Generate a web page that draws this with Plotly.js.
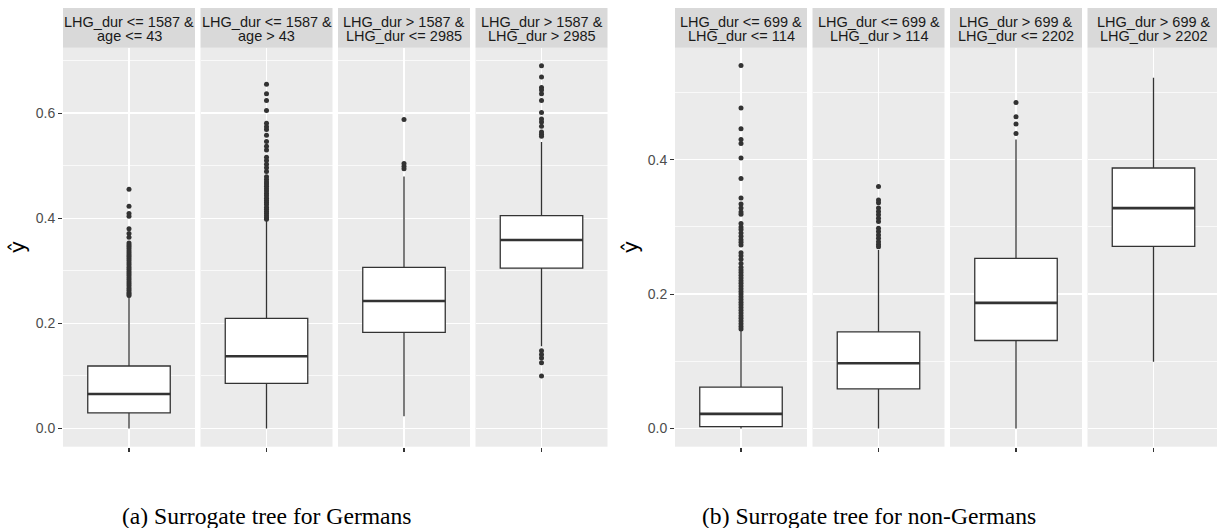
<!DOCTYPE html>
<html>
<head>
<meta charset="utf-8">
<script src="https://cdn.plot.ly/plotly-3.0.1.min.js"></script>
<style>html,body{margin:0;padding:0;background:#fff;}#chart{width:1217px;height:528px;}</style>
</head>
<body>
<div id="chart"></div>
<script>
// ---------- data: (a) Germans ----------
var germanStripLine1 = ["LHG_dur <= 1587 &", "LHG_dur <= 1587 &", "LHG_dur > 1587 &", "LHG_dur > 1587 &"];
var germanStripLine2 = ["age <= 43", "age > 43", "LHG_dur <= 2985", "LHG_dur > 2985"];
var germanQ1     = [0.0297, 0.0861, 0.1831, 0.3053];
var germanMedian = [0.0658, 0.1375, 0.2426, 0.3586];
var germanQ3     = [0.1190, 0.2097, 0.3067, 0.4050];
var germanLower  = [0.0000, 0.0000, 0.0234, 0.1565];
var germanUpper  = [0.2500, 0.3950, 0.4797, 0.5450];
var germanOut1 = [0.455, 0.423, 0.409, 0.404, 0.380, 0.371, 0.364, 0.353, 0.349, 0.346, 0.342, 0.338, 0.334, 0.330, 0.327, 0.323, 0.319, 0.315, 0.311, 0.307, 0.303, 0.299, 0.295, 0.291, 0.287, 0.283, 0.279, 0.275, 0.271, 0.267, 0.263, 0.259, 0.256, 0.253];
var germanOut2 = [0.655, 0.637, 0.624, 0.605, 0.581, 0.574, 0.569, 0.558, 0.546, 0.537, 0.530, 0.516, 0.510, 0.503, 0.496, 0.489, 0.479, 0.474, 0.469, 0.465, 0.461, 0.456, 0.452, 0.447, 0.443, 0.438, 0.434, 0.430, 0.426, 0.421, 0.417, 0.413, 0.409, 0.405, 0.401, 0.398];
var germanOut3 = [0.588, 0.504, 0.499, 0.494];
var germanOut4 = [0.690, 0.669, 0.649, 0.644, 0.637, 0.624, 0.601, 0.589, 0.583, 0.575, 0.564, 0.560, 0.556, 0.148, 0.141, 0.134, 0.125, 0.100];
var germanTicks = [0.0, 0.2, 0.4, 0.6];
var germanCaption = "(a) Surrogate tree for Germans";

// ---------- data: (b) non-Germans ----------
var nonGermanStripLine1 = ["LHG_dur <= 699 &", "LHG_dur <= 699 &", "LHG_dur > 699 &", "LHG_dur > 699 &"];
var nonGermanStripLine2 = ["LHG_dur <= 114", "LHG_dur > 114", "LHG_dur <= 2202", "LHG_dur > 2202"];
var nonGermanQ1     = [0.0030, 0.0590, 0.1310, 0.2710];
var nonGermanMedian = [0.0218, 0.0972, 0.1870, 0.3280];
var nonGermanQ3     = [0.0615, 0.1439, 0.2532, 0.3876];
var nonGermanLower  = [0.0000, 0.0000, 0.0000, 0.0992];
var nonGermanUpper  = [0.1454, 0.2655, 0.4300, 0.5220];
var nonGermanOut1 = [0.540, 0.477, 0.446, 0.430, 0.424, 0.4025, 0.372, 0.343, 0.334, 0.328, 0.322, 0.319, 0.305, 0.300, 0.296, 0.291, 0.286, 0.281, 0.277, 0.273, 0.2615, 0.257, 0.252, 0.2457, 0.240, 0.236, 0.232, 0.228, 0.224, 0.220, 0.216, 0.212, 0.208, 0.204, 0.200, 0.196, 0.192, 0.188, 0.184, 0.180, 0.176, 0.172, 0.168, 0.164, 0.160, 0.156, 0.152, 0.148];
var nonGermanOut2 = [0.360, 0.340, 0.336, 0.328, 0.323, 0.318, 0.313, 0.308, 0.298, 0.293, 0.288, 0.283, 0.278, 0.274, 0.2705];
var nonGermanOut3 = [0.485, 0.464, 0.453, 0.439];
var nonGermanOut4 = [];
var nonGermanTicks = [0.0, 0.2, 0.4];
var nonGermanCaption = "(b) Surrogate tree for non-Germans";

// ---------- layout geometry (pixels) ----------
var W = 1217, H = 528;
var PANEL_TOP = 47.7, PANEL_BOTTOM = 446.7, STRIP_TOP = 8;
var germanPanelLeft = [63, 200.5, 338, 475.5];
var nonGermanPanelLeft = [675, 812.5, 950, 1087.5];
var PANEL_W = 132;
var BOX_W = 0.75;
var X_HALF = 0.6;

var FONT = "Liberation Sans, Arial, Helvetica, sans-serif";
var traces = [], shapes = [], annotations = [];
var layout = {
  width: W, height: H, autosize: false,
  margin: {l: 0, r: 0, t: 0, b: 0, pad: 0},
  paper_bgcolor: "white", plot_bgcolor: "#EBEBEB",
  showlegend: false,
  font: {family: FONT, color: "#1A1A1A"}
};

function yAxisDef(anchor, range, ticks) {
  return {
    domain: [(H - PANEL_BOTTOM) / H, (H - PANEL_TOP) / H],
    anchor: anchor, range: range, tickvals: ticks, tickformat: ".1f",
    ticks: "outside", ticklen: 4, tickwidth: 1.1, tickcolor: "#333333",
    tickfont: {family: FONT, size: 14, color: "#4D4D4D"},
    showgrid: true, gridcolor: "white", gridwidth: 1.5,
    minor: {dtick: 0.1, tick0: 0, showgrid: true, gridcolor: "white", gridwidth: 0.7, ticks: ""},
    zeroline: false, showline: false, fixedrange: true
  };
}

function buildFigure(startIdx, yName, lefts, stripL1, stripL2, q1, med, q3, lo, hi, outs, range, ticks, titleX, caption, captionX) {
  var yRef = yName === "yaxis" ? "y" : "y" + yName.replace("yaxis", "");
  for (var i = 0; i < 4; i++) {
    var n = startIdx + i;
    var xName = n === 1 ? "xaxis" : "xaxis" + n;
    var xRef = n === 1 ? "x" : "x" + n;
    var left = lefts[i];
    var right = Math.min(left + PANEL_W, W);
    var pxPerUnit = PANEL_W / (2 * X_HALF);
    layout[xName] = {
      domain: [left / W, right / W],
      anchor: yRef,
      range: [-X_HALF, -X_HALF + (right - left) / pxPerUnit],
      tickvals: [0], showticklabels: false,
      ticks: "outside", ticklen: 4, tickwidth: 1.1, tickcolor: "#333333",
      showgrid: true, gridcolor: "white", gridwidth: 1.5,
      zeroline: false, showline: false, fixedrange: true
    };
    traces.push({
      type: "box", xaxis: xRef, yaxis: yRef,
      x: [0], q1: [q1[i]], median: [med[i]], q3: [q3[i]],
      lowerfence: [lo[i]], upperfence: [hi[i]],
      boxpoints: false, width: BOX_W, whiskerwidth: 0,
      fillcolor: "white", line: {color: "#333333", width: 1.3},
      hoverinfo: "skip"
    });
    if (outs[i].length) {
      traces.push({
        type: "scatter", mode: "markers", xaxis: xRef, yaxis: yRef,
        x: outs[i].map(function () { return 0; }), y: outs[i],
        marker: {color: "#333333", size: 5},
        hoverinfo: "skip"
      });
    }
    shapes.push({
      type: "line", xref: xRef, yref: yRef,
      x0: -BOX_W / 2, x1: BOX_W / 2, y0: med[i], y1: med[i],
      line: {color: "#333333", width: 2.6}, layer: "above"
    });
    shapes.push({
      type: "rect", xref: "paper", yref: "paper",
      x0: left / W, x1: right / W, y0: (H - PANEL_TOP) / H, y1: (H - STRIP_TOP) / H,
      fillcolor: "#D9D9D9", line: {width: 0}, layer: "below"
    });
    annotations.push({
      xref: xRef, yref: "paper", x: 0, y: (H - 21.7) / H,
      text: stripL1[i], showarrow: false, xanchor: "center", yanchor: "middle",
      font: {family: FONT, size: 14.5, color: "#1A1A1A"}
    });
    annotations.push({
      xref: xRef, yref: "paper", x: 0, y: (H - 36) / H,
      text: stripL2[i], showarrow: false, xanchor: "center", yanchor: "middle",
      font: {family: FONT, size: 14.5, color: "#1A1A1A"}
    });
  }
  layout[yName] = yAxisDef(startIdx === 1 ? "x" : "x" + startIdx, range, ticks);
  annotations.push({
    xref: "paper", yref: "paper", x: titleX / W, y: (H - (PANEL_TOP + PANEL_BOTTOM) / 2) / H,
    text: "ŷ", textangle: -90, showarrow: false, xanchor: "center", yanchor: "middle",
    font: {family: "DejaVu Sans, " + FONT, size: 21, color: "#000000"}
  });
  annotations.push({
    xref: "paper", yref: "paper", x: captionX / W, y: (H - 516) / H,
    text: caption, showarrow: false, xanchor: "center", yanchor: "middle",
    font: {family: "Liberation Serif, Times New Roman, serif", size: 23.6, color: "#000000"}
  });
}

buildFigure(1, "yaxis", germanPanelLeft, germanStripLine1, germanStripLine2,
  germanQ1, germanMedian, germanQ3, germanLower, germanUpper,
  [germanOut1, germanOut2, germanOut3, germanOut4],
  [-0.0345, 0.7245], germanTicks, 18, germanCaption, 267);
buildFigure(5, "yaxis2", nonGermanPanelLeft, nonGermanStripLine1, nonGermanStripLine2,
  nonGermanQ1, nonGermanMedian, nonGermanQ3, nonGermanLower, nonGermanUpper,
  [nonGermanOut1, nonGermanOut2, nonGermanOut3, nonGermanOut4],
  [-0.027, 0.5666], nonGermanTicks, 631, nonGermanCaption, 869);

layout.shapes = shapes;
layout.annotations = annotations;

Plotly.newPlot("chart", traces, layout, {staticPlot: true, displayModeBar: false});
</script>
</body>
</html>
